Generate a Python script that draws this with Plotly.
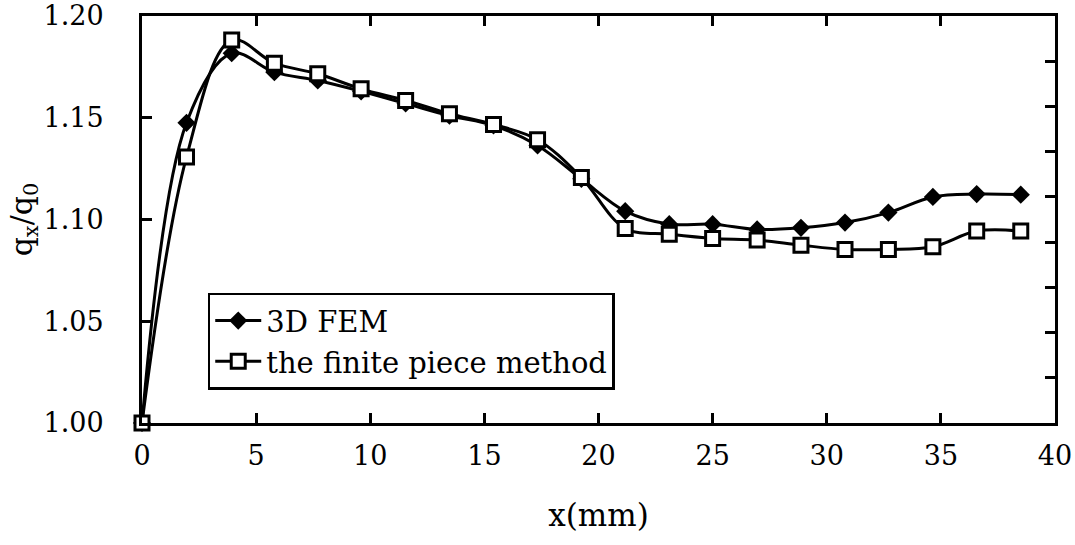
import plotly.graph_objects as go

x_mm = [0.0, 1.95, 3.93, 5.8, 7.7, 9.6, 11.55, 13.47, 15.4, 17.33, 19.25,
        21.17, 23.1, 25.0, 26.95, 28.87, 30.8, 32.7, 34.65, 36.57, 38.5]
fem_3d = [1.000, 1.1475, 1.1817, 1.1724, 1.1683, 1.1630, 1.1570, 1.1510, 1.1462, 1.1364, 1.1200,
          1.1041, 1.0977, 1.0977, 1.0951, 1.0959, 1.0985, 1.1034, 1.1111, 1.1125, 1.1122]
finite_piece = [1.000, 1.1307, 1.1882, 1.1768, 1.1716, 1.1642, 1.1585, 1.1520, 1.1467, 1.1392, 1.1206,
                1.0956, 1.0928, 1.0907, 1.0899, 1.0874, 1.0853, 1.0853, 1.0866, 1.0943, 1.0943]
y_ticks = [1.00, 1.05, 1.10, 1.15, 1.20]
x_ticks = [0, 5, 10, 15, 20, 25, 30, 35, 40]

FONT = "DejaVu Serif"

fig = go.Figure()
fig.add_trace(go.Scatter(
    x=x_mm, y=fem_3d, name="3D FEM", mode="lines+markers", cliponaxis=False,
    line=dict(color="black", width=3, shape="spline", smoothing=1.0),
    marker=dict(symbol="diamond", size=14, color="black"),
))
fig.add_trace(go.Scatter(
    x=x_mm, y=finite_piece, name="the finite piece method", mode="lines+markers", cliponaxis=False,
    line=dict(color="black", width=3, shape="spline", smoothing=1.0),
    marker=dict(symbol="square", size=14, color="white", line=dict(color="black", width=3)),
))
# helper trace so the right-hand axis (9 divisions) is drawn
fig.add_trace(go.Scatter(x=[None], y=[None], yaxis="y2", showlegend=False, hoverinfo="skip"))

fig.update_layout(
    width=1075, height=545,
    margin=dict(l=142, r=20, t=16, b=122),
    paper_bgcolor="white", plot_bgcolor="white",
    font=dict(family=FONT, size=27, color="black"),
    showlegend=True,
    legend=dict(
        x=0.072, y=0.32, xanchor="left", yanchor="top",
        bordercolor="black", borderwidth=2.5, bgcolor="white",
        font=dict(family=FONT, size=29, color="black"),
        tracegroupgap=0, itemwidth=46,
    ),
    xaxis=dict(
        range=[0, 40], tickvals=x_ticks, ticktext=[str(v) for v in x_ticks],
        ticks="inside", ticklen=10, tickwidth=2.5, tickcolor="black",
        showline=True, linecolor="black", linewidth=3, mirror="ticks",
        showgrid=False, zeroline=False, automargin=False, ticklabelstandoff=7,
        title=dict(text="x(mm)", font=dict(family=FONT, size=31), standoff=34),
        tickfont=dict(family=FONT, size=27),
    ),
    yaxis=dict(
        range=[1.00, 1.20], tickvals=y_ticks, tickformat=".2f",
        ticks="inside", ticklen=10, tickwidth=2.5, tickcolor="black",
        showline=True, linecolor="black", linewidth=3,
        showgrid=False, zeroline=False, automargin=False, ticklabelstandoff=30,
        title=dict(text="q<sub>x</sub>/q<sub>0</sub>", font=dict(family=FONT, size=30), standoff=2),
        tickfont=dict(family=FONT, size=27),
    ),
    yaxis2=dict(
        overlaying="y", side="right", range=[0, 9], dtick=1,
        ticks="inside", ticklen=10, tickwidth=2.5, tickcolor="black",
        showticklabels=False, showline=True, linecolor="black", linewidth=3,
        showgrid=False, zeroline=False, automargin=False,
    ),
)

# remove the default 8px page margin so the figure fills the window exactly
fig.write_html("out.html", config={"displayModeBar": False},
               post_script="document.body.style.margin='0';")
